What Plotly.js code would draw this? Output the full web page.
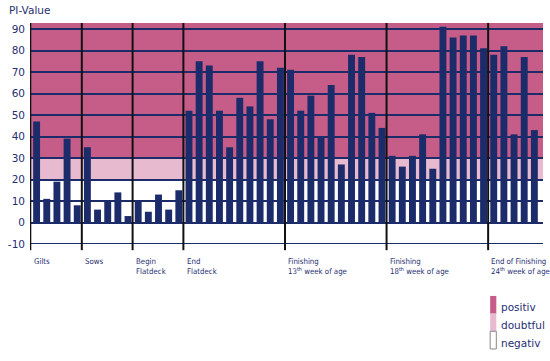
<!DOCTYPE html>
<html>
<head>
<meta charset="utf-8">
<script src="https://cdn.plot.ly/plotly-3.0.1.min.js"></script>
<style>html,body{margin:0;padding:0;background:#fff;}#chart{width:550px;height:361px;}</style>
</head>
<body>
<div id="chart"></div>
<script>
// ---- data ----
var groupLabels = [
  "Gilts",
  "Sows",
  "Begin<br>Flatdeck",
  "End<br>Flatdeck",
  "Finishing<br>13<sup>th</sup> week of age",
  "Finishing<br>18<sup>th</sup> week of age",
  "End of Finishing<br>24<sup>th</sup> week of age"
];
var gilts = [47, 11, 19, 39, 8];
var sows = [35, 6, 10, 14, 3];
var beginFlatdeck = [10, 5, 13, 6, 15];
var endFlatdeck = [52, 75, 73, 52, 35, 58, 54, 75, 48, 72];
var finishing13 = [71, 52, 59, 40, 64, 27, 78, 77, 51, 44];
var finishing18 = [31, 26, 31, 41, 25, 91, 86, 87, 87, 81];
var endFinishing = [78, 82, 41, 77, 43];
var yTicks = [-10, 0, 10, 20, 30, 40, 50, 60, 70, 80, 90];
var bandLabels = ["positiv", "doubtful", "negativ"];
var bandLimits = [30, 20]; // positiv >= 30, doubtful 20-30

// ---- build ----
var groups = [gilts, sows, beginFlatdeck, endFlatdeck, finishing13, finishing18, endFinishing];
var xs = [], ys = [], starts = [];
var idx = 0;
groups.forEach(function (g) {
  starts.push(idx);
  g.forEach(function (v) { xs.push(idx); ys.push(v); idx++; });
});

var NAVY = "#1c2c6b";
var PINK = "#c65c88";
var LPINK = "#e8bad0";
var TXT = "#1f2f72";
var YTOP = 92.8;

var shapes = [
  {type: "rect", layer: "below", xref: "paper", x0: 0, x1: 1, yref: "y", y0: bandLimits[0], y1: YTOP, fillcolor: PINK, line: {width: 0}},
  {type: "rect", layer: "below", xref: "paper", x0: 0, x1: 1, yref: "y", y0: bandLimits[1], y1: bandLimits[0], fillcolor: LPINK, line: {width: 0}},
  {type: "line", layer: "above", xref: "paper", x0: 0, x1: 1, yref: "y", y0: -10, y1: -10, line: {color: NAVY, width: 2}}
];
starts.forEach(function (s) {
  var xpos = s === 0 ? -0.62 : s - 0.55;
  shapes.push({type: "line", layer: "above", xref: "x", x0: xpos, x1: xpos, yref: "paper", y0: -0.028, y1: 1, line: {color: "#111", width: 2}});
});

var annotations = [];
starts.forEach(function (s, i) {
  annotations.push({
    xref: "x", x: (s === 0 ? -0.62 : s - 0.55) + 0.12, xanchor: "left",
    yref: "paper", y: -0.05, yanchor: "top",
    text: groupLabels[i], showarrow: false, align: "left",
    font: {family: "DejaVu Sans Condensed, DejaVu Sans", size: 7.8, color: TXT}
  });
});
annotations.push({
  xref: "paper", x: -0.045, xanchor: "left", yref: "paper", y: 1.059, yanchor: "middle",
  text: "PI-Value", showarrow: false,
  font: {family: "DejaVu Sans", size: 10.5, color: TXT}
});

// legend (custom)
var legColors = [PINK, LPINK, "#ffffff"];
var legTop = -0.235, legH = 0.08;
bandLabels.forEach(function (lab, i) {
  var y1 = legTop - i * legH, y0 = y1 - legH;
  shapes.push({type: "rect", xref: "paper", yref: "paper", x0: 0.897, x1: 0.909, y0: y0, y1: y1,
    fillcolor: legColors[i], line: {width: i === 2 ? 1 : 0, color: "#888"}});
  annotations.push({xref: "paper", x: 0.914, xanchor: "left", yref: "paper", y: (y0 + y1) / 2 - 0.012, yanchor: "middle",
    text: lab, showarrow: false, font: {family: "DejaVu Sans", size: 10.5, color: TXT}});
});

var trace = {
  type: "bar", x: xs, y: ys, width: 0.68,
  marker: {color: NAVY, line: {width: 0}},
  hoverinfo: "skip"
};

var layout = {
  width: 550, height: 361,
  margin: {l: 30, r: 7, t: 23, b: 117},
  paper_bgcolor: "#fff", plot_bgcolor: "#fff",
  showlegend: false,
  xaxis: {range: [-0.65, 49.85], showgrid: false, zeroline: false, showticklabels: false, ticks: "", showline: false, fixedrange: true},
  yaxis: {range: [-10, YTOP], tickvals: yTicks, ticktext: yTicks.map(String), showgrid: true, gridcolor: NAVY, gridwidth: 2,
    zeroline: true, zerolinecolor: NAVY, zerolinewidth: 2, showline: false, ticks: "",
    tickfont: {family: "DejaVu Sans", size: 10.5, color: TXT}, ticklabelstandoff: 4, fixedrange: true},
  shapes: shapes,
  annotations: annotations,
  bargap: 0.3
};

Plotly.newPlot("chart", [trace], layout, {displayModeBar: false, staticPlot: true});
</script>
</body>
</html>
